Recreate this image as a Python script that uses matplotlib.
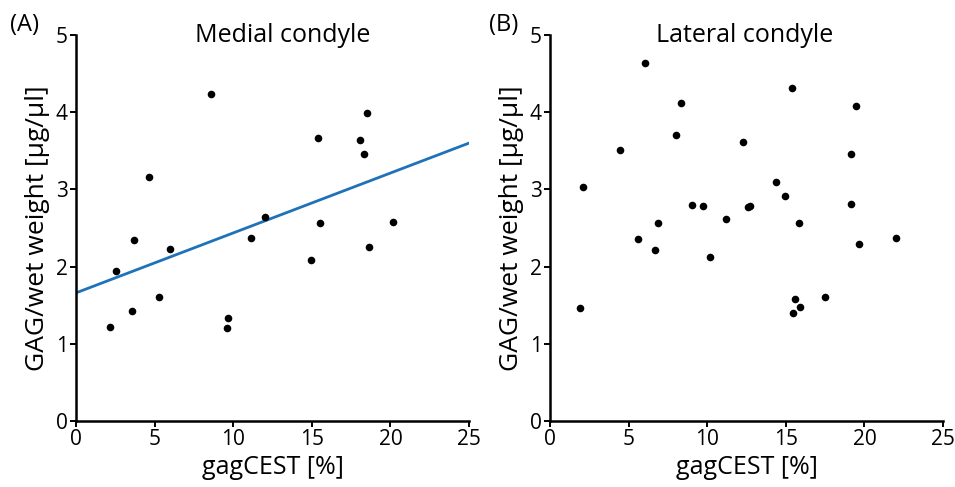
import numpy as np
import matplotlib
matplotlib.use("Agg")
import matplotlib.pyplot as plt

plt.rcParams['font.family'] = ['Open Sans', 'DejaVu Sans']

# medial condyle
med_x = [2.16, 2.52, 3.56, 3.69, 4.62, 5.25, 5.95, 8.56, 9.58, 9.64,
         11.14, 12.01, 14.96, 15.40, 15.49, 18.07, 18.35, 18.54, 18.67, 20.19]
med_y = [1.22, 1.94, 1.42, 2.34, 3.16, 1.61, 2.23, 4.24, 1.20, 1.33,
         2.37, 2.64, 2.09, 3.66, 2.56, 3.64, 3.46, 3.99, 2.26, 2.58]
fit_intercept = 1.66
fit_slope = 0.0776

# lateral condyle
lat_x = [1.91, 2.07, 4.45, 5.57, 6.03, 6.67, 6.88, 8.02, 8.32, 9.02,
         9.74, 10.18, 11.18, 12.30, 12.60, 12.72, 14.39, 14.94, 15.41, 15.47,
         15.56, 15.83, 15.90, 17.46, 19.14, 19.16, 19.47, 19.67, 22.02]
lat_y = [1.46, 3.03, 3.51, 2.36, 4.64, 2.21, 2.57, 3.71, 4.12, 2.80,
         2.78, 2.13, 2.62, 3.61, 2.77, 2.79, 3.10, 2.91, 4.31, 1.40,
         1.58, 2.57, 1.48, 1.61, 3.46, 2.81, 4.08, 2.29, 2.37]

fig = plt.figure(figsize=(9.55, 4.87), dpi=100)
ax1 = fig.add_axes([0.0796, 0.1355, 0.4115, 0.7926])
ax2 = fig.add_axes([0.576, 0.1355, 0.4115, 0.7926])

ax1.scatter(med_x, med_y, s=30, color='black', zorder=3, linewidths=0)
xx = np.array([0, 25])
ax1.plot(xx, fit_intercept + fit_slope * xx, color='#1f72b8', lw=2.0, zorder=2)
ax2.scatter(lat_x, lat_y, s=30, color='black', zorder=3, linewidths=0)

for ax, title, tx in [(ax1, 'Medial condyle', 0.525), (ax2, 'Lateral condyle', 0.495)]:
    ax.set_xlim(0, 25)
    ax.set_ylim(0, 5)
    ax.set_xticks([0, 5, 10, 15, 20, 25])
    ax.set_yticks([0, 1, 2, 3, 4, 5])
    for s in ['top', 'right']:
        ax.spines[s].set_visible(False)
    for s in ['left', 'bottom']:
        ax.spines[s].set_linewidth(1.8)
    ax.tick_params(width=1.4, length=4, labelsize=15, pad=2)
    ax.set_xlabel('gagCEST [%]', fontsize=18, labelpad=3)
    ax.set_ylabel('GAG/wet weight [µg/µl]', fontsize=19, labelpad=4)
    ax.text(tx, 1.0, title, transform=ax.transAxes, ha='center', va='center', fontsize=18)

fig.text(0.026, 0.949, '(A)', ha='center', va='center', fontsize=17)
fig.text(0.527, 0.949, '(B)', ha='center', va='center', fontsize=17)

fig.savefig('out.png', dpi=100)
